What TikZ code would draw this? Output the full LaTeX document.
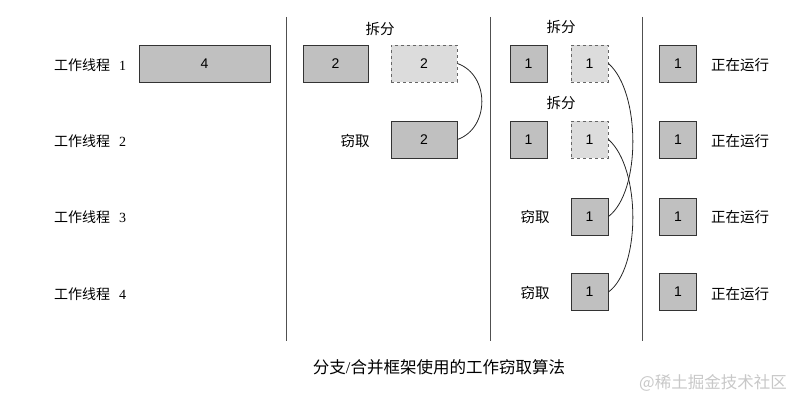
\documentclass[tikz,border=0pt]{standalone}
\usepackage{fontspec}
\setmainfont{Liberation Serif}
\newfontfamily\cjk{Noto Sans CJK SC}
\newfontfamily\numf{Liberation Sans}
\definecolor{boxfill}{HTML}{C0C0C0}
\definecolor{ghostfill}{HTML}{DCDCDC}
\definecolor{sepline}{HTML}{505050}
\definecolor{wmark}{HTML}{C8C8C8}
\tikzset{
  taskbox/.style={draw=black!80, fill=boxfill, line width=0.9pt, inner sep=0pt, font=\numf\fontsize{14}{16}\selectfont},
  ghostbox/.style={draw=black!60, fill=ghostfill, dashed, line width=0.9pt, inner sep=0pt, font=\numf\fontsize{14}{16}\selectfont},
  lbl/.style={inner sep=0pt, font=\cjk\fontsize{14.5}{16}\selectfont},
  thr/.style={inner sep=0pt, anchor=west, font=\fontsize{14}{16}\selectfont},
  sep/.style={draw=sepline, line width=1pt},
  steal/.style={draw=black!85, line width=0.8pt}
}
\begin{document}
\begin{tikzpicture}[x=1pt,y=-1pt]
\useasboundingbox (0,0) rectangle (810,406);
% thread labels
\node[thr] (t1) at (54,65) {{\cjk 工作线程}\hspace{9pt}1};
\node[thr] (t2) at (54,141) {{\cjk 工作线程}\hspace{9pt}2};
\node[thr] (t3) at (54,217) {{\cjk 工作线程}\hspace{9pt}3};
\node[thr] (t4) at (54,294) {{\cjk 工作线程}\hspace{9pt}4};
% separators
\coordinate (v1t) at (286,17); \coordinate (v1b) at (286,341);
\coordinate (v2t) at (490,17); \coordinate (v2b) at (490,341);
\coordinate (v3t) at (642,17); \coordinate (v3b) at (642,341);
\draw[sep] (v1t) -- (v1b);
\draw[sep] (v2t) -- (v2b);
\draw[sep] (v3t) -- (v3b);
% column 1
\node[taskbox, minimum width=131pt, minimum height=37pt] (b4) at (204.5,63.5) {4};
% column 2
\node[lbl] (split2) at (380,29) {拆分};
\node[taskbox, minimum width=65pt, minimum height=37pt] (c2a) at (335.5,63.5) {2};
\node[ghostbox, minimum width=66pt, minimum height=37pt] (c2d) at (424,63.5) {2};
\node[lbl] (steal2) at (355,141) {窃取};
\node[taskbox, minimum width=66pt, minimum height=37pt] (c2s) at (424,139.5) {2};
\draw[steal] (c2d.east) .. controls (490,75) and (490,128) .. (c2s.east);
% column 3
\node[lbl] (split3a) at (561,27) {拆分};
\node[lbl] (split3b) at (561,103) {拆分};
\node[taskbox, minimum width=37pt, minimum height=37pt] (c3a) at (528.5,63.5) {1};
\node[ghostbox, minimum width=37pt, minimum height=37pt] (c3ad) at (589.5,63.5) {1};
\node[taskbox, minimum width=37pt, minimum height=37pt] (c3b) at (528.5,139.5) {1};
\node[ghostbox, minimum width=37pt, minimum height=37pt] (c3bd) at (589.5,139.5) {1};
\node[lbl] (steal3c) at (535,217) {窃取};
\node[taskbox, minimum width=37pt, minimum height=37pt] (c3c) at (589.5,216.5) {1};
\node[lbl] (steal3d) at (535,293) {窃取};
\node[taskbox, minimum width=37pt, minimum height=37pt] (c3d) at (589.5,292) {1};
\draw[steal] (c3ad.east) .. controls (641,92) and (641,192) .. (c3c.east);
\draw[steal] (c3bd.east) .. controls (641,168) and (641,268) .. (c3d.east);
% column 4
\node[taskbox, minimum width=37pt, minimum height=37pt] (c4a) at (678,63.5) {1};
\node[taskbox, minimum width=37pt, minimum height=37pt] (c4b) at (678,139.5) {1};
\node[taskbox, minimum width=37pt, minimum height=37pt] (c4c) at (678,216.5) {1};
\node[taskbox, minimum width=37pt, minimum height=37pt] (c4d) at (678,292) {1};
\node[lbl, anchor=west] (run1) at (711,65) {正在运行};
\node[lbl, anchor=west] (run2) at (711,141) {正在运行};
\node[lbl, anchor=west] (run3) at (711,217) {正在运行};
\node[lbl, anchor=west] (run4) at (711,294) {正在运行};
% caption
\node[inner sep=0pt, font=\fontsize{16.5}{18}\selectfont] (cap) at (439,367) {{\cjk 分支}/{\cjk 合并框架使用的工作窃取算法}};
\node[inner sep=0pt, text=wmark, font=\cjk\fontsize{16.5}{18}\selectfont] (wm) at (713,383) {@稀土掘金技术社区};
\end{tikzpicture}
\end{document}
